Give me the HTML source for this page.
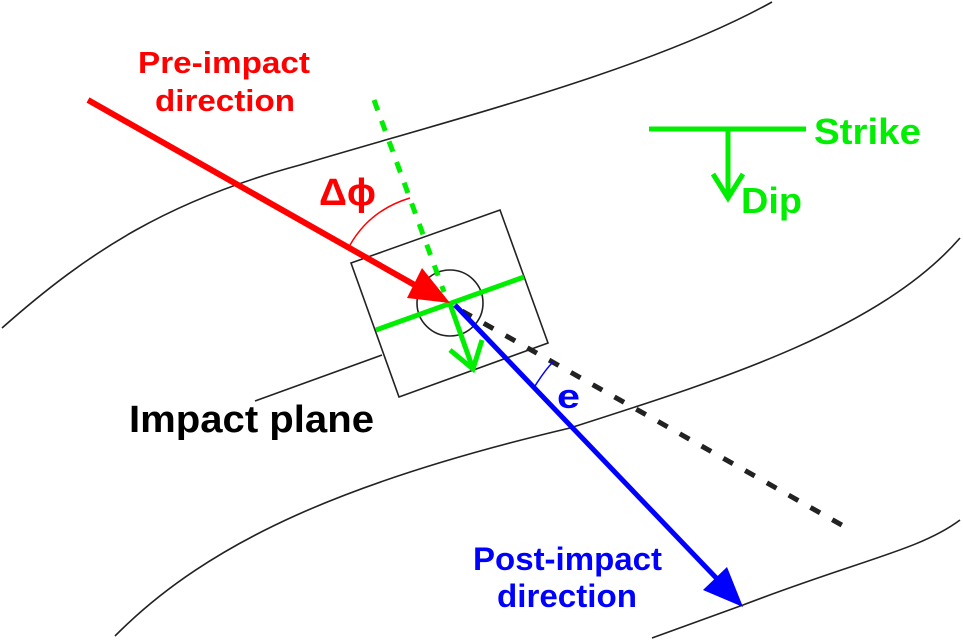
<!DOCTYPE html>
<html><head><meta charset="utf-8"><style>
html,body{margin:0;padding:0;background:#fff}
svg{display:block}
text{font-family:"Liberation Sans",sans-serif;font-weight:bold}
</style></head><body>
<svg width="963" height="642" viewBox="0 0 963 642" xmlns="http://www.w3.org/2000/svg">
<g fill="none" stroke="#222" stroke-width="1.6">
<path d="M2,328 C90,250 170,200 300,165 C450,120 650,70 772,2"/>
<path d="M115,636 C210,540 350,480 570,428 C720,380 880,330 960,238"/>
<path d="M652,638 L743,605 C860,560 920,550 960,520"/>
<path d="M255,401 L382,355"/>
<polygon points="351,263 500,210 548,343 399,397"/>
<circle cx="450" cy="303" r="33"/>
</g>
<!-- dashed black -->
<line x1="462" y1="311" x2="847" y2="528" stroke="#222" stroke-width="5" stroke-dasharray="11,14"/>
<!-- green dotted -->
<line x1="374" y1="100" x2="444" y2="292" stroke="#00ee00" stroke-width="5" stroke-dasharray="11,11"/>
<!-- green plane line -->
<line x1="376" y1="330" x2="524" y2="277" stroke="#00ee00" stroke-width="5"/>
<!-- green dip arrow -->
<line x1="450" y1="304" x2="472" y2="366" stroke="#00ee00" stroke-width="5"/>
<polyline points="450,350 473,369 482,340" fill="none" stroke="#00ee00" stroke-width="5"/>
<!-- red arrow -->
<line x1="88" y1="100" x2="420" y2="288" stroke="#ff0000" stroke-width="6"/>
<polygon points="450,303 407,298 422,268" fill="#ff0000"/>
<!-- delta phi arc -->
<path d="M350,245 Q370,210 410,198" fill="none" stroke="#ff0000" stroke-width="1.5"/>
<!-- blue arrow -->
<line x1="455" y1="305" x2="722" y2="584" stroke="#0000ff" stroke-width="5"/>
<polygon points="743,607 703,590 727,567" fill="#0000ff"/>
<path d="M535,386 Q545,370 553,362" fill="none" stroke="#0000ff" stroke-width="1.5"/>
<!-- strike/dip -->
<line x1="649" y1="129" x2="806" y2="129" stroke="#00ee00" stroke-width="5"/>
<line x1="728" y1="129" x2="728" y2="196" stroke="#00ee00" stroke-width="5"/>
<polyline points="713,174 728,198 743,174" fill="none" stroke="#00ee00" stroke-width="5"/>
<!-- text -->
<text x="138" y="73" font-size="31" fill="#ff0000" textLength="172" lengthAdjust="spacingAndGlyphs">Pre-impact</text>
<text x="155" y="111" font-size="31" fill="#ff0000" textLength="140" lengthAdjust="spacingAndGlyphs">direction</text>
<text x="319" y="205" font-size="38" fill="#ff0000" textLength="57" lengthAdjust="spacingAndGlyphs">Δϕ</text>
<text x="814" y="144" font-size="36" fill="#00ee00" textLength="107" lengthAdjust="spacingAndGlyphs">Strike</text>
<text x="741" y="213" font-size="36" fill="#00ee00" textLength="61" lengthAdjust="spacingAndGlyphs">Dip</text>
<text x="129" y="432" font-size="38" fill="#000" textLength="245" lengthAdjust="spacingAndGlyphs">Impact plane</text>
<text x="557" y="408" font-size="34" fill="#0000ff" textLength="23" lengthAdjust="spacingAndGlyphs">e</text>
<text x="473" y="570" font-size="32" fill="#0000ff" textLength="189" lengthAdjust="spacingAndGlyphs">Post-impact</text>
<text x="497" y="607" font-size="32" fill="#0000ff" textLength="140" lengthAdjust="spacingAndGlyphs">direction</text>
</svg>
</body></html>
